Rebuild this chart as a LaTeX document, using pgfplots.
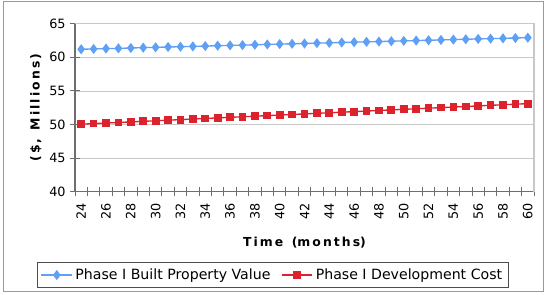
\documentclass[border=0pt]{standalone}
\usepackage{pgfplots}
\pgfplotsset{compat=1.18}
\usepackage{fontspec}
\setmainfont{DejaVu Sans}
\definecolor{serBlue}{RGB}{95,160,245}
\definecolor{serRed}{RGB}{220,35,45}
\definecolor{axGray}{RGB}{110,110,110}
\definecolor{gridGray}{RGB}{200,200,200}
\begin{document}
\begin{tikzpicture}
\useasboundingbox (0,0) rectangle (414pt,220.5pt);
\draw[color=gray!80, line width=0.9pt] (2.6pt,1.8pt) rectangle (407.8pt,219.6pt);
\begin{axis}[
  at={(56.25pt,76.7pt)}, anchor=south west,
  scale only axis, width=344.25pt, height=126pt,
  xmin=23.5, xmax=60.5, ymin=40, ymax=65,
  axis x line*=bottom, axis y line*=left,
  axis line style={axGray, line width=0.8pt},
  ytick={40,45,...,65},
  xtick={23.5,24.5,...,60.5}, xticklabels={},
  extra x ticks={24,26,...,60},
  extra x tick labels={24,26,28,30,32,34,36,38,40,42,44,46,48,50,52,54,56,58,60},
  extra x tick style={major tick length=0pt, grid=none},
  tick align=center, major tick length=7pt,
  tick style={axGray, line width=0.7pt},
  ymajorgrids, grid style={gridGray, line width=0.6pt},
  xticklabel shift=5pt,
  x tick label style={rotate=90, anchor=east, font=\fontsize{9.6}{11}\selectfont},
  y tick label style={font=\fontsize{9.6}{11}\selectfont},
  /pgf/number format/assume math mode=true,
  xlabel={\bfseries T\,i\,m\,e\, \,(m\,o\,n\,t\,h\,s)},
  ylabel={\bfseries (\,\$\,,\, \,M\,i\,l\,l\,i\,o\,n\,s\,)},
  xlabel style={font=\fontsize{9.3}{11}\selectfont, yshift=2pt},
  ylabel style={font=\fontsize{9.3}{11}\selectfont, yshift=-1pt},
  legend columns=2,
  legend style={at={(0.431,-0.496)}, anchor=center, draw=black!70, line width=0.6pt,
    font=\fontsize{10.6}{12}\selectfont, inner sep=2.5pt,
    /tikz/every even column/.append style={column sep=6pt}},
  legend image code/.code={\draw[#1] (0pt,0pt) -- (23pt,0pt); \draw[#1, mark repeat=1] plot coordinates {(11.5pt,0pt)};},
  clip=false,
]
\draw[gridGray, line width=0.8pt] (rel axis cs:0,1) -- (rel axis cs:1,1) -- (rel axis cs:1,0);
\addplot[serBlue, line width=1pt, mark=diamond*, mark size=3pt, mark options={fill=serBlue, draw=serBlue}] coordinates {
(24,61.20) (25,61.25) (26,61.30) (27,61.34) (28,61.39) (29,61.44) (30,61.49) (31,61.54) (32,61.58) (33,61.63)
(34,61.68) (35,61.73) (36,61.78) (37,61.82) (38,61.87) (39,61.92) (40,61.97) (41,62.02) (42,62.06) (43,62.11)
(44,62.16) (45,62.21) (46,62.26) (47,62.30) (48,62.35) (49,62.40) (50,62.45) (51,62.50) (52,62.54) (53,62.59)
(54,62.64) (55,62.69) (56,62.74) (57,62.78) (58,62.83) (59,62.88) (60,62.93)};
\addlegendentry{Phase I Built Property Value}
\addplot[serRed, line width=1pt, mark=square*, mark size=2.4pt, mark options={fill=serRed, draw=serRed}] coordinates {
(24,50.05) (25,50.14) (26,50.22) (27,50.31) (28,50.39) (29,50.48) (30,50.56) (31,50.65) (32,50.73) (33,50.82)
(34,50.90) (35,50.99) (36,51.07) (37,51.16) (38,51.24) (39,51.33) (40,51.41) (41,51.50) (42,51.58) (43,51.67)
(44,51.75) (45,51.84) (46,51.92) (47,52.01) (48,52.09) (49,52.18) (50,52.26) (51,52.35) (52,52.43) (53,52.52)
(54,52.60) (55,52.69) (56,52.77) (57,52.86) (58,52.94) (59,53.03) (60,53.11)};
\addlegendentry{Phase I Development Cost}
\end{axis}
\end{tikzpicture}
\end{document}
